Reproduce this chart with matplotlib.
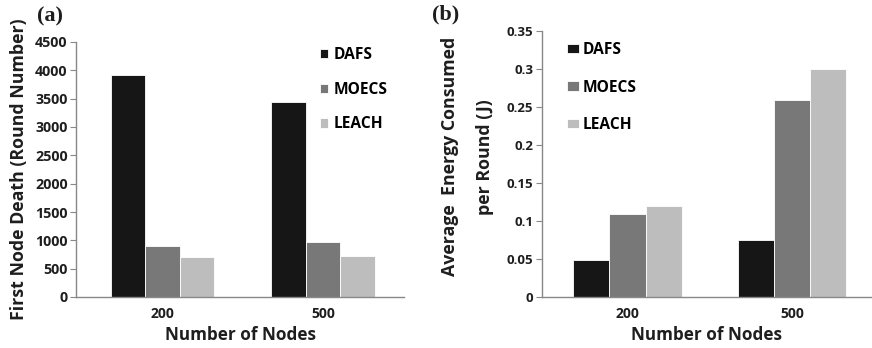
import matplotlib
matplotlib.use("Agg")
import matplotlib.pyplot as plt
import numpy as np

categories = ["200", "500"]
series = ["DAFS", "MOECS", "LEACH"]
first_death = {"DAFS": [3920, 3450], "MOECS": [900, 970], "LEACH": [700, 725]}
energy = {"DAFS": [0.049, 0.075], "MOECS": [0.109, 0.26], "LEACH": [0.12, 0.30]}
yticks_a = [0, 500, 1000, 1500, 2000, 2500, 3000, 3500, 4000, 4500]
yticks_b = [0, 0.05, 0.1, 0.15, 0.2, 0.25, 0.3, 0.35]
ytick_labels_b = ["0", "0.05", "0.1", "0.15", "0.2", "0.25", "0.3", "0.35"]

colors = {"DAFS": "#161616", "MOECS": "#787878", "LEACH": "#bdbdbd"}
txt = "#1e1e1e"
font = "Open Sans"

fig = plt.figure(figsize=(8.72, 3.48), dpi=100)
axa = fig.add_axes([76/872, 1-297/348, 328/872, 255/348])
axb = fig.add_axes([541.7/872, 1-297/348, 330/872, 265.7/348])

x = np.arange(len(categories))

def draw(ax, data, bw, xlim, ylim, yticks, ylabels, tick_fs):
    handles = []
    for i, s in enumerate(series):
        h = ax.bar(x + (i - 1) * bw, data[s], width=bw, color=colors[s],
                   edgecolor="white", linewidth=0.6, label=s)
        handles.append(h)
    ax.set_xlim(*xlim)
    ax.set_ylim(*ylim)
    ax.set_xticks(x)
    ax.set_xticklabels(categories, fontfamily=font, fontweight="bold",
                       fontsize=10, color=txt)
    ax.set_yticks(yticks)
    ax.set_yticklabels(ylabels, fontfamily=font, fontweight="bold",
                       fontsize=tick_fs, color=txt)
    ax.tick_params(axis="x", length=0, pad=7)
    ax.tick_params(axis="y", length=4, width=0.8, color="#888888", pad=2)
    for sp in ["top", "right"]:
        ax.spines[sp].set_visible(False)
    for sp in ["left", "bottom"]:
        ax.spines[sp].set_color("#888888")
        ax.spines[sp].set_linewidth(1.0)
    ax.set_xlabel("Number of Nodes", fontfamily=font, fontweight="bold",
                  fontsize=12.3, color=txt, labelpad=4)
    return handles

draw(axa, first_death, 0.215, (-0.539, 1.505), (0, 4500), yticks_a,
     [str(v) for v in yticks_a], 10.3)
draw(axb, energy, 0.22, (-0.522, 1.486), (0, 0.35), yticks_b,
     ytick_labels_b, 9.5)

axa.set_ylabel("First Node Death (Round Number)", fontfamily=font,
               fontweight="bold", fontsize=12.8, color=txt, labelpad=5)

fig.text(450/872, 1-156/348, "Average  Energy Consumed", rotation=90,
         ha="center", va="center", fontfamily=font, fontweight="bold",
         fontsize=12.8, color=txt)
fig.text(485/872, 1-157/348, "per Round (J)", rotation=90,
         ha="center", va="center", fontfamily=font, fontweight="bold",
         fontsize=12.8, color=txt)

axa.legend(loc="upper left", bbox_to_anchor=(0.70, 1.035), frameon=False,
           handlelength=0.55, handleheight=0.55, handletextpad=0.35,
           labelspacing=1.2,
           prop={"family": font, "weight": "bold", "size": 11.2})
axb.legend(loc="upper left", bbox_to_anchor=(0.035, 1.012), frameon=False,
           handlelength=0.75, handleheight=0.55, handletextpad=0.25,
           labelspacing=1.38,
           prop={"family": font, "weight": "bold", "size": 11.2})

fig.text(37/872, 1-16/348, "(a)", fontfamily="Liberation Serif",
         fontweight="bold", fontsize=16, color=txt, va="center", ha="left")
fig.text(432/872, 1-14/348, "(b)", fontfamily="Liberation Serif",
         fontweight="bold", fontsize=16, color=txt, va="center", ha="left")

fig.savefig("out.png", dpi=100)
